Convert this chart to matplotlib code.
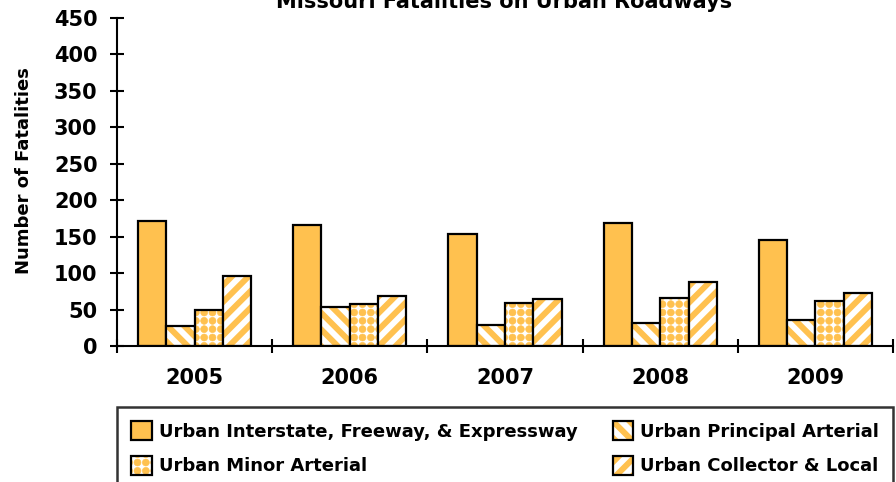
import numpy as np
import matplotlib
matplotlib.use("Agg")
import matplotlib.pyplot as plt
import matplotlib.hatch as mhatch
from matplotlib.patches import Rectangle
from matplotlib.legend_handler import HandlerTuple

# data
years = ["2005", "2006", "2007", "2008", "2009"]
series = [
    "Urban Interstate, Freeway, & Expressway",
    "Urban Principal Arterial",
    "Urban Minor Arterial",
    "Urban Collector & Local",
]
interstate = [172, 166, 154, 169, 146]
principal = [28, 53, 29, 31, 35]
minor = [50, 58, 59, 66, 62]
collector = [96, 68, 64, 88, 73]

orange = "#FFC14F"


# '.' hatch as bigger filled dots on a square grid (like the reference)
class SquareDots(mhatch.Circles):
    size = 0.42
    filled = True

    def __init__(self, hatch, density):
        self.num_rows = hatch.count('.') * density
        super().__init__(hatch, density)
        self.num_shapes = self.num_rows ** 2
        self.num_vertices = self.num_shapes * len(self.shape_vertices)

    def set_vertices_and_codes(self, vertices, codes):
        offset = 1.0 / self.num_rows
        shape = self.shape_vertices * offset * self.size
        n = len(shape)
        k = 0
        for r in range(self.num_rows):
            for c in range(self.num_rows):
                vertices[k:k + n] = shape + [(c + 0.5) * offset, (r + 0.5) * offset]
                codes[k:k + n] = self.shape_codes
                k += n


mhatch._hatch_types[mhatch._hatch_types.index(mhatch.SmallFilledCircles)] = SquareDots


def set_hatch_lw(p, lw):
    if hasattr(p, "set_hatch_linewidth"):
        p.set_hatch_linewidth(lw)
    else:
        p._hatch_linewidth = lw


plt.rcParams["font.family"] = "DejaVu Sans"
plt.rcParams["font.weight"] = "bold"

fig = plt.figure(figsize=(8.96, 4.82), dpi=100)
ax = fig.add_axes([117 / 896, 1 - 346 / 482, 776 / 896, 328 / 482])

x = np.arange(len(years))
w = 0.1826
values = [interstate, principal, minor, collector]
# (face, hatch, hatch colour, hatch width)
styles = [
    (orange, None, orange, 1.0),
    (orange, "\\\\", "white", 4.2),
    ("white", "..", orange, 0.4),
    (orange, "//", "white", 4.2),
]
hatch_lw = {s[1]: s[3] for s in styles}

handles = []
for i, (vals, (fc, hatch, hc, hw)) in enumerate(zip(values, styles)):
    pos = x + (i - 1.5) * w
    plt.rcParams["hatch.linewidth"] = hw
    fill = ax.bar(pos, vals, w, color=fc, edgecolor=hc, hatch=hatch, linewidth=0)
    for p in fill:
        set_hatch_lw(p, hw)
    edge = ax.bar(pos, vals, w, facecolor="none", edgecolor="black", linewidth=1.6)
    handles.append((fill[0], edge[0]))

ax.set_xlim(-0.5, 4.5)
ax.set_ylim(0, 450)
ax.set_yticks(np.arange(0, 451, 50))
ax.set_xticks(x)
ax.set_xticklabels(years)
ax.set_xticks(np.arange(-0.5, 4.6, 1), minor=True)
ax.tick_params(axis="x", which="major", length=0, pad=16, labelsize=15)
ax.tick_params(axis="x", which="minor", direction="inout", length=10, width=1.5)
ax.tick_params(axis="y", direction="inout", length=10, width=1.5, labelsize=15, pad=9)
for side in ["top", "right"]:
    ax.spines[side].set_visible(False)
for side in ["left", "bottom"]:
    ax.spines[side].set_linewidth(1.5)
ax.set_ylabel("Number of Fatalities", fontsize=13, fontweight="bold")
ax.yaxis.set_label_coords(-0.108, 0.534)

fig.text(0.5625, 1 - 8 / 482, "Missouri Fatalities on Urban Roadways",
         ha="center", va="baseline", fontsize=15)

# legend fills column by column, so reorder to get the reference rows
order = [0, 2, 1, 3]
leg = fig.legend([handles[k] for k in order], [series[k] for k in order],
                 handler_map={tuple: HandlerTuple(ndivide=1, pad=0)},
                 loc="upper left", bbox_to_anchor=(117 / 896, 0, 776 / 896, 1 - 407 / 482),
                 mode="expand", ncol=2, fontsize=13, frameon=True, fancybox=False,
                 handlelength=1.15, handleheight=1.2, handletextpad=0.35,
                 borderpad=0.8, labelspacing=0.85, borderaxespad=0)
leg.get_frame().set_edgecolor("black")
leg.get_frame().set_linewidth(1.8)
for p in leg.findobj(Rectangle):
    if p.get_hatch() in hatch_lw:
        set_hatch_lw(p, hatch_lw[p.get_hatch()])

fig.savefig("out.png", dpi=100)
